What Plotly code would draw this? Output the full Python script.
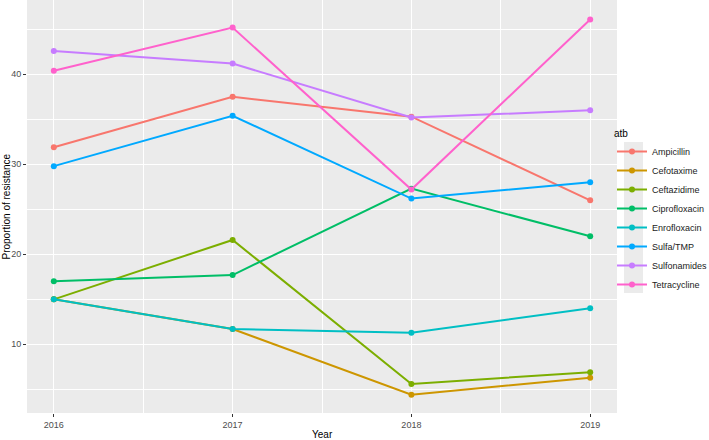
import plotly.graph_objects as go

years = [2016, 2017, 2018, 2019]
antibiotics = ["Ampicillin", "Cefotaxime", "Ceftazidime", "Ciprofloxacin",
               "Enrofloxacin", "Sulfa/TMP", "Sulfonamides", "Tetracycline"]
ampicillin = [31.9, 37.5, 35.3, 26.0]
cefotaxime = [15.0, 11.7, 4.4, 6.3]
ceftazidime = [15.0, 21.6, 5.6, 6.9]
ciprofloxacin = [17.0, 17.7, 27.3, 22.0]
enrofloxacin = [15.0, 11.7, 11.3, 14.0]
sulfa_tmp = [29.8, 35.4, 26.2, 28.0]
sulfonamides = [42.6, 41.2, 35.2, 36.0]
tetracycline = [40.4, 45.2, 27.2, 46.1]
series = [ampicillin, cefotaxime, ceftazidime, ciprofloxacin,
          enrofloxacin, sulfa_tmp, sulfonamides, tetracycline]
colors = ["#F8766D", "#CD9600", "#7CAE00", "#00BE67",
          "#00BFC4", "#00A9FF", "#C77CFF", "#FF61CC"]

fig = go.Figure()
for name, vals, c in zip(antibiotics, series, colors):
    fig.add_trace(go.Scatter(x=years, y=vals, name=name, mode="lines+markers",
                             line=dict(color=c, width=2),
                             marker=dict(color=c, size=6)))

W, H = 709, 440
L, R, T, B = 27, 92, 0, 27
pw = W - L - R
ph = H - T - B

def px_x(p):
    return (p - L) / pw

def px_y(p):
    return (H - B - p) / ph

fig.update_layout(
    width=W, height=H,
    margin=dict(l=L, r=R, t=T, b=B, autoexpand=False),
    paper_bgcolor="white",
    plot_bgcolor="#EBEBEB",
    font=dict(family="Liberation Sans, Arial, sans-serif", size=10, color="#000000"),
    showlegend=True,
    legend=dict(
        title=dict(text="atb", font=dict(size=10, color="#000")),
        x=px_x(612), xanchor="left", y=px_y(124), yanchor="top",
        bgcolor="rgba(0,0,0,0)",
        font=dict(size=9, color="#1a1a1a"),
        tracegroupgap=0,
        itemwidth=30,
    ),
    xaxis=dict(
        automargin=False,
        range=[2015.85, 2019.15],
        tickvals=years, ticktext=[str(y) for y in years],
        ticks="outside", ticklen=3, tickcolor="#333333", tickwidth=1,
        tickfont=dict(size=9, color="#4D4D4D"),
        showgrid=True, gridcolor="white", gridwidth=1.1,
        minor=dict(tickvals=[2016.5, 2017.5, 2018.5], showgrid=True,
                   gridcolor="white", gridwidth=0.5, ticks=""),
        zeroline=False, showline=False,
    ),
    yaxis=dict(
        automargin=False,
        range=[2.37, 48.26],
        tickvals=[10, 20, 30, 40],
        ticks="outside", ticklen=3, tickcolor="#333333", tickwidth=1,
        tickfont=dict(size=9, color="#4D4D4D"),
        showgrid=True, gridcolor="white", gridwidth=1.1,
        minor=dict(tickvals=[5, 15, 25, 35, 45], showgrid=True,
                   gridcolor="white", gridwidth=0.5, ticks=""),
        zeroline=False, showline=False,
    ),
    shapes=[
        dict(type="rect", xref="paper", yref="paper",
             x0=px_x(624), x1=px_x(643), y0=px_y(142), y1=px_y(293),
             fillcolor="#EBEBEB", line=dict(width=0), layer="above"),
    ],
    annotations=[
        dict(text="Year", xref="paper", yref="paper", x=0.5, y=px_y(434),
             xanchor="center", yanchor="middle", showarrow=False,
             font=dict(size=10, color="#000")),
        dict(text="Proportion of resistance", xref="paper", yref="paper",
             x=px_x(6), y=0.5, xanchor="center", yanchor="middle",
             textangle=-90, showarrow=False, font=dict(size=10, color="#000")),
    ],
)

fig.write_html("out.html", config={"displayModeBar": False},
               post_script="document.body.style.margin='0';document.body.style.overflow='hidden';")
